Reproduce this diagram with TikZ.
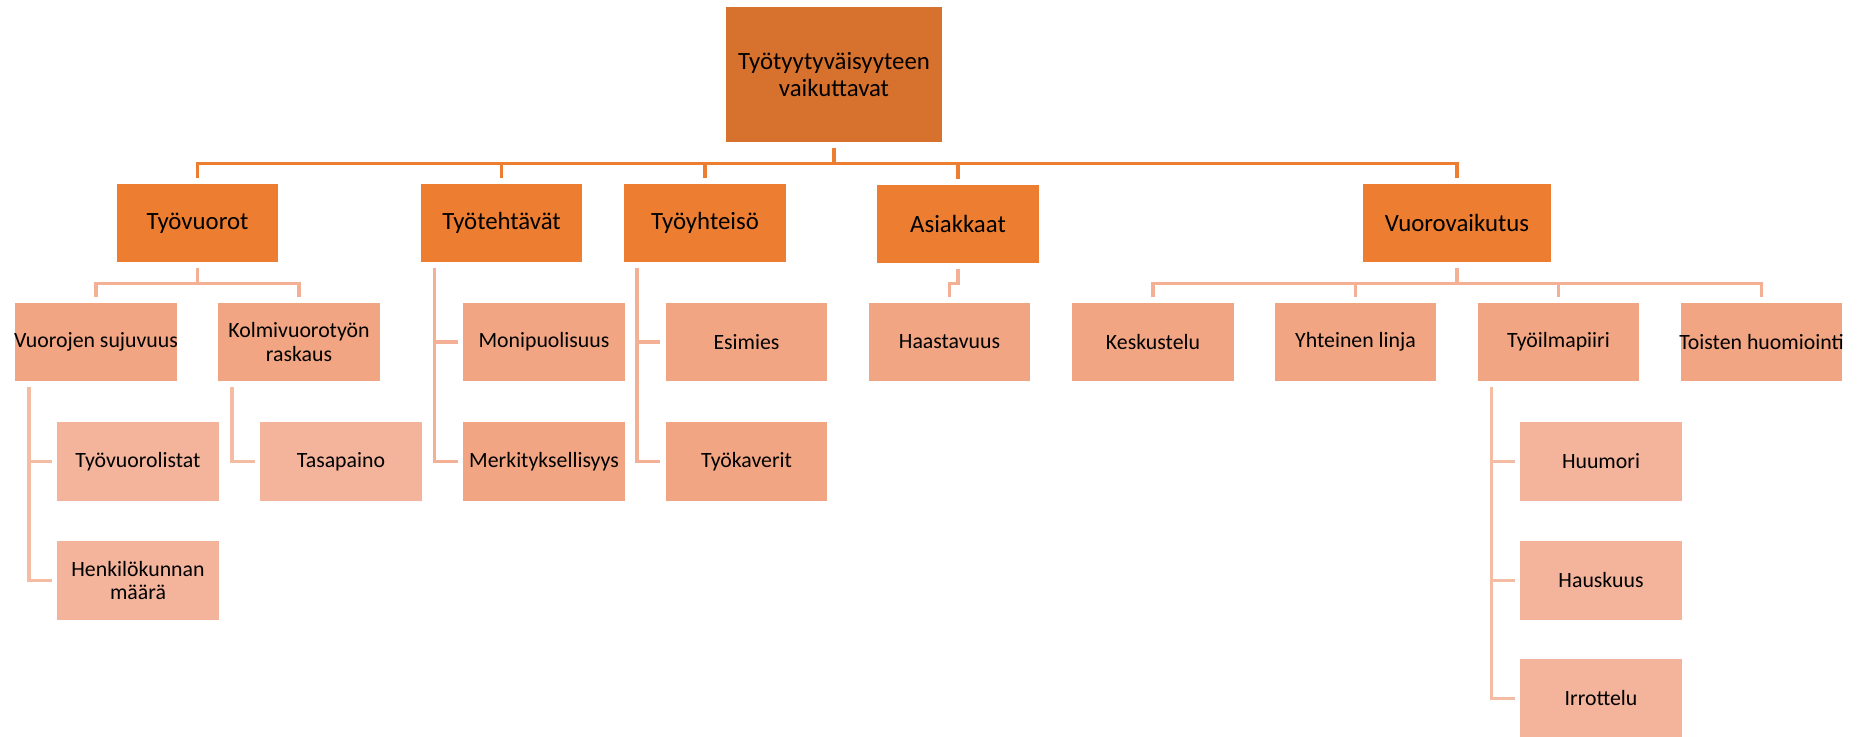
\documentclass[tikz,border=0pt]{standalone}
\usepackage{fontspec}
\setmainfont{Carlito}
\definecolor{rootorange}{HTML}{D7712E}
\definecolor{mainorange}{HTML}{ED7D31}
\definecolor{subsalmon}{HTML}{F1A582}
\definecolor{leafsalmon}{HTML}{F4B39B}
\definecolor{wireorange}{HTML}{ED7D31}
\definecolor{wiresalmon}{HTML}{F3B094}
\definecolor{wirepale}{HTML}{F5BCA4}

\begin{document}
\begin{tikzpicture}[x=0.5pt, y=-0.5pt,
  box/.style={draw=white, line width=0.6pt, inner xsep=0pt, align=center, text=black,
    minimum width=81.5pt, minimum height=40pt},
  topbox/.style={box, fill=mainorange, font=\fontsize{12.4}{13.4}\selectfont},
  subbox/.style={box, fill=subsalmon, font=\fontsize{10.9}{11.7}\selectfont},
  leafbox/.style={box, fill=leafsalmon, font=\fontsize{10.9}{11.7}\selectfont},
  wire/.style={line width=1.7pt, shorten <=2pt, shorten >=2pt}]
  \useasboundingbox (0,0) rectangle (1862,737);

  \node[topbox, fill=rootorange, minimum width=109pt, minimum height=68.5pt] (root) at (834,74.5) {Työtyytyväisyyteen\\vaikuttavat};

  \node[topbox] (tvuor) at (197.5,223) {Työvuorot};
  \node[topbox] (ttehtav) at (501.5,223) {Työtehtävät};
  \node[topbox] (tyhteis) at (705,223) {Työyhteisö};
  \node[topbox] (asiak) at (958,224) {Asiakkaat};
  \node[topbox, minimum width=95pt] (vuorov) at (1457,223) {Vuorovaikutus};

  \node[subbox] (vsuj) at (96,342) {\makebox[81.5pt]{Vuorojen sujuvuus}};
  \node[subbox] (kolmi) at (299,342) {Kolmivuorotyön\\raskaus};
  \node[subbox] (monip) at (544,342) {Monipuolisuus};
  \node[subbox] (merk) at (544,461.5) {Merkityksellisyys};
  \node[subbox] (esim) at (746.5,342) {Esimies};
  \node[subbox] (tkav) at (746.5,461.5) {Työkaverit};
  \node[subbox] (haast) at (949.5,342) {Haastavuus};
  \node[subbox] (kesk) at (1153,342) {Keskustelu};
  \node[subbox] (yhtl) at (1355.5,342) {Yhteinen linja};
  \node[subbox] (tilm) at (1558.5,342) {Työilmapiiri};
  \node[subbox] (toist) at (1761.5,342) {\makebox[81.5pt]{Toisten huomiointi}};

  \node[leafbox] (tvlist) at (138,461.5) {Työvuorolistat};
  \node[leafbox] (henk) at (138,580.5) {Henkilökunnan\\määrä};
  \node[leafbox] (tasap) at (341,461.5) {Tasapaino};
  \node[leafbox] (huum) at (1601,461.5) {Huumori};
  \node[leafbox] (hausk) at (1601,580.5) {Hauskuus};
  \node[leafbox] (irrot) at (1601,698.5) {Irrottelu};

  \foreach \n in {tvuor,ttehtav,tyhteis,asiak,vuorov}
    \draw[wire, wireorange] (root.south) -- ++(0,20) -| (\n.north);

  \foreach \n in {vsuj,kolmi}
    \draw[wire, wiresalmon] (tvuor.south) -- ++(0,20) -| (\n.north);
  \draw[wire, wiresalmon] (asiak.south) -- ++(0,19) -| (haast.north);
  \foreach \n in {kesk,yhtl,tilm,toist}
    \draw[wire, wiresalmon] (vuorov.south) -- ++(0,20) -| (\n.north);
  \foreach \n in {monip,merk}
    \draw[wire, wiresalmon] ([xshift=7.5pt]ttehtav.south west) |- (\n.west);
  \foreach \n in {esim,tkav}
    \draw[wire, wiresalmon] ([xshift=7pt]tyhteis.south west) |- (\n.west);

  \foreach \n in {tvlist,henk}
    \draw[wire, wirepale] ([xshift=7.5pt]vsuj.south west) |- (\n.west);
  \draw[wire, wirepale] ([xshift=7.5pt]kolmi.south west) |- (tasap.west);
  \foreach \n in {huum,hausk,irrot}
    \draw[wire, wirepale] ([xshift=7.5pt]tilm.south west) |- (\n.west);
\end{tikzpicture}
\end{document}
